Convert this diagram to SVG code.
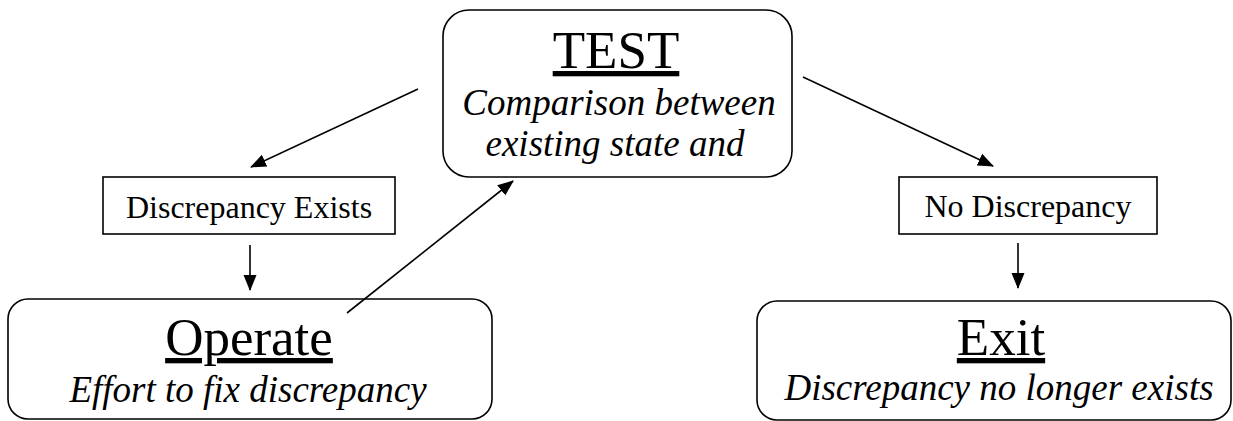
<svg xmlns="http://www.w3.org/2000/svg" width="1233" height="421" viewBox="0 0 1233 421">
<style>
.box{fill:#fff;stroke:#000;stroke-width:1.6}
.title{font-family:"Liberation Serif",serif;font-size:53px;fill:#000;text-anchor:middle;text-decoration:underline}
.sub{font-family:"Liberation Serif",serif;font-style:italic;font-size:37px;fill:#000;text-anchor:middle}
.lbl{font-family:"Liberation Serif",serif;font-size:32px;fill:#000;text-anchor:middle}
.conn{stroke:#000;stroke-width:1.6;fill:none;marker-end:url(#ah)}
</style>
<defs>
<marker id="ah" markerUnits="userSpaceOnUse" markerWidth="16" markerHeight="14" refX="15" refY="6.5" orient="auto" viewBox="0 0 16 13">
<path d="M0,0 L16,6.5 L0,13 z" fill="#000"/>
</marker>
</defs>
<rect width="1233" height="421" fill="#fff"/>
<g id="test">
<rect class="box" x="443" y="10" width="349" height="167" rx="26"/>
<text class="title" x="616" y="68">TEST</text>
<text class="sub" x="619" y="115">Comparison between</text>
<text class="sub" x="615" y="156">existing state and</text>
</g>
<g id="discrepancy-exists">
<rect class="box" x="103" y="177" width="292" height="57"/>
<text class="lbl" x="249" y="218">Discrepancy Exists</text>
</g>
<g id="no-discrepancy">
<rect class="box" x="899" y="177" width="258" height="57"/>
<text class="lbl" x="1028" y="217">No Discrepancy</text>
</g>
<g id="operate">
<rect class="box" x="8" y="299" width="484" height="120" rx="20"/>
<text class="title" x="249" y="355">Operate</text>
<text class="sub" x="248" y="402">Effort to fix discrepancy</text>
</g>
<g id="exit">
<rect class="box" x="757" y="301" width="474" height="119" rx="20"/>
<text class="title" x="1001" y="355">Exit</text>
<text class="sub" x="999" y="400">Discrepancy no longer exists</text>
</g>
<g id="connectors">
<line class="conn" x1="418" y1="89" x2="251" y2="167"/>
<line class="conn" x1="250" y1="245" x2="250" y2="290"/>
<line class="conn" x1="347" y1="313" x2="513" y2="181"/>
<line class="conn" x1="803" y1="77" x2="993" y2="166"/>
<line class="conn" x1="1018" y1="243" x2="1018" y2="288"/>
</g>
</svg>
